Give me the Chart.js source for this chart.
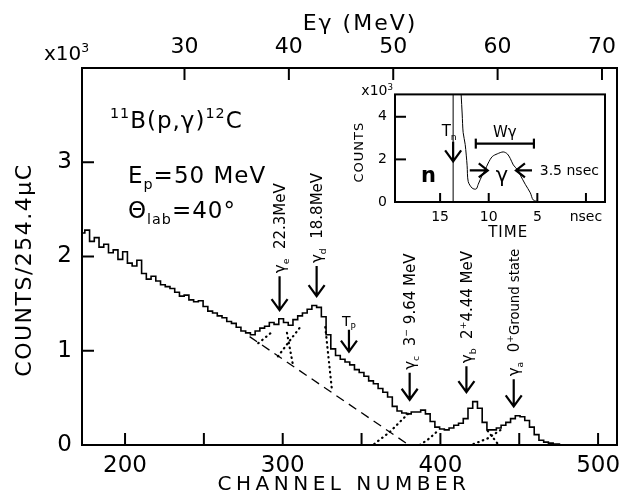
<!DOCTYPE html>
<html>
<head>
<meta charset="utf-8">
<script src="https://cdn.jsdelivr.net/npm/chart.js@4.4.1/dist/chart.umd.min.js"></script>
<style>
html, body { margin: 0; padding: 0; background: #fff; }
#wrap { position: relative; width: 629px; height: 504px; }
#main { position: absolute; left: 0; top: 0; }
#insetBox { position: absolute; left: 340px; top: 78px; width: 275px; height: 170px; }
</style>
</head>
<body>
<div id="wrap">
  <canvas id="main" width="629" height="504"></canvas>
  <div id="insetBox"><canvas id="inset" width="275" height="170"></canvas></div>
</div>
<script>
const FONT = "'DejaVu Sans', sans-serif";

// spectrum, counts in units of 10^3
const channels = [173,176,179,182,185,188,191,194,197,200,
  203,206,209,212,215,218,221,224,227,230,
  233,236,239,242,245,248,251,254,257,260,
  263,266,269,272,275,278,281,284,287,290,
  293,296,299,302,305,308,311,314,317,320,
  323,326,329,332,335,338,341,344,347,350,
  353,356,359,362,365,368,371,374,377,380,
  383,386,389,392,395,398,401,404,407,410,
  413,416,419,422,425,428,431,434,437,440,
  443,446,449,452,455,458,461,464,467,470,
  473,476];
const counts = [2.25,2.28,2.16,2.20,2.10,2.13,2.04,2.07,1.97,2.05,
  1.93,1.90,1.96,1.82,1.76,1.79,1.74,1.70,1.68,1.66,
  1.62,1.58,1.59,1.54,1.52,1.53,1.47,1.42,1.40,1.37,
  1.35,1.31,1.29,1.25,1.21,1.19,1.17,1.21,1.24,1.26,
  1.30,1.28,1.34,1.30,1.27,1.33,1.37,1.40,1.44,1.48,
  1.46,1.36,1.17,1.02,0.95,0.91,0.88,0.85,0.80,0.77,
  0.73,0.68,0.65,0.60,0.56,0.51,0.41,0.36,0.34,0.33,
  0.35,0.35,0.37,0.33,0.25,0.19,0.17,0.16,0.18,0.21,
  0.23,0.28,0.39,0.46,0.39,0.24,0.16,0.16,0.18,0.21,
  0.24,0.28,0.31,0.30,0.26,0.19,0.11,0.05,0.03,0.02,
  0.01,0.01];

// dashed background
const bgChannels = [279, 380];
const bgCounts = [1.15, 0];

// dotted peak shapes (null = break)
const dotChannels = [284.5,294,null, 302.7,306.7,null, 297,304.6,312,null, 327,331.3,null,
  358,368,380,null, 387,393,399,null, 430,436,null, 421,430,440];
const dotCounts = [1.08,1.21,null, 1.19,0.83,null, 0.94,1.11,1.27,null, 1.25,0.57,null,
  0.01,0.14,0.34,null, 0.0,0.07,0.16,null, 0.15,0.02,null, 0.01,0.07,0.18];

const channelTicks = [200, 300, 400, 500];
const channelMinor = [250, 350, 450];
const countTicks = [0, 1, 2, 3];
const energyTicks = [30, 40, 50, 60, 70];

// inset: time spectrum
const insetTime = [12.95,12.73,12.63,12.42,12.22,12.11,11.70,11.29,11.08,10.67,10.36,10.05,
  9.64,9.12,8.51,8.09,7.78,7.47,7.06,6.75,6.24,5.72,5.41,4.70];
const insetCounts = [6.0,4.13,3.26,2.70,1.70,0.96,0.65,0.61,0.83,1.26,1.52,1.83,
  2.13,2.26,2.35,2.26,2.04,1.74,1.52,1.26,0.83,0.43,0.09,0.0];
const tnTime = 13.66;
const timeTicks = [15, 10, 5, 0];
const insetCountTicks = [0, 2, 4];

function pts(xs, ys) {
  return xs.map((x, i) => (x === null ? { x: NaN, y: null } : { x: x, y: ys[i] }));
}

function drawParts(ctx, parts, x, y, size, align) {
  const spec = parts.map(([t, k]) => {
    let s = size, dy = 0, w = '';
    if (k === 'b') { s = size * 0.62; dy = size * 0.28; }
    if (k === 'p') { s = size * 0.62; dy = -size * 0.42; }
    if (k === 's') { s = size * 0.88; }
    if (k === 'B') { w = 'bold '; }
    return { t, font: w + s.toFixed(1) + 'px ' + FONT, dy };
  });
  let total = 0;
  spec.forEach(p => { ctx.font = p.font; p.w = ctx.measureText(p.t).width; total += p.w; });
  let cx = align === 'center' ? x - total / 2 : (align === 'right' ? x - total : x);
  ctx.textAlign = 'left';
  ctx.textBaseline = 'alphabetic';
  spec.forEach(p => { ctx.font = p.font; ctx.fillText(p.t, cx, y + p.dy); cx += p.w; });
}

function drawRotated(ctx, parts, x, y, size, align) {
  ctx.save();
  ctx.translate(x, y);
  ctx.rotate(-Math.PI / 2);
  drawParts(ctx, parts, 0, size * 0.36, size, align);
  ctx.restore();
}

function line(ctx, x1, y1, x2, y2) {
  ctx.beginPath(); ctx.moveTo(x1, y1); ctx.lineTo(x2, y2); ctx.stroke();
}

function arrowDown(ctx, x, yTop, yTip) {
  ctx.beginPath();
  ctx.moveTo(x, yTop); ctx.lineTo(x, yTip);
  ctx.moveTo(x - 8, yTip - 11); ctx.lineTo(x, yTip); ctx.lineTo(x + 8, yTip - 11);
  ctx.stroke();
}

function arrowSide(ctx, xFrom, xTip, y) {
  const d = xTip > xFrom ? -1 : 1;
  ctx.beginPath();
  ctx.moveTo(xFrom, y); ctx.lineTo(xTip, y);
  ctx.moveTo(xTip + d * 9, y - 7); ctx.lineTo(xTip, y); ctx.lineTo(xTip + d * 9, y + 7);
  ctx.stroke();
}

// arrows with labels on the main spectrum
const markers = [
  { ch: 298, tip: 1.43, len: 34, parts: [['γ', ''], ['e', 'b'], ['  22.3MeV', '']] },
  { ch: 321.5, tip: 1.58, len: 30, parts: [['γ', ''], ['d', 'b'], ['  18.8MeV', '']] },
  { ch: 380.5, tip: 0.48, len: 27, parts: [['γ', ''], ['c', 'b'], ['  3', ''], ['−', 'p'], [' 9.64 MeV', '']] },
  { ch: 416.5, tip: 0.56, len: 26, parts: [['γ', ''], ['b', 'b'], ['  2', ''], ['+', 'p'], ['4.44 MeV', '']] },
  { ch: 446.5, tip: 0.41, len: 27, parts: [['γ', ''], ['a', 'b'], ['  0', ''], ['+', 'p'], ['Ground state', 's']] }
];

const mainDecor = {
  id: 'mainDecor',
  afterDraw(chart) {
    const { ctx, chartArea: a, scales } = chart;
    const sx = scales.x, sy = scales.y, se = scales.e;
    ctx.save();
    ctx.strokeStyle = '#000';
    ctx.fillStyle = '#000';
    ctx.lineWidth = 2;
    ctx.strokeRect(a.left, a.top, a.right - a.left, a.bottom - a.top);

    channelTicks.concat(channelMinor).forEach(v => {
      const px = sx.getPixelForValue(v);
      line(ctx, px, a.bottom, px, a.bottom - 12);
    });
    countTicks.filter(v => v > 0).forEach(v => {
      const py = sy.getPixelForValue(v);
      line(ctx, a.left, py, a.left + 12, py);
    });
    energyTicks.forEach(v => {
      const px = se.getPixelForValue(v);
      line(ctx, px, a.top, px, a.top + 12);
    });

    // titles
    drawParts(ctx, [['x10', ''], ['3', 'p']], 44, 60, 20, 'left');
    ctx.letterSpacing = '2px';
    drawParts(ctx, [['Eγ (MeV)', '']], 360, 30, 22, 'center');
    ctx.letterSpacing = '4.5px';
    drawParts(ctx, [['CHANNEL NUMBER', '']], 344, 490, 20, 'center');
    ctx.letterSpacing = '1.5px';
    drawRotated(ctx, [['COUNTS/254.4μC', '']], 23, 270, 22, 'center');
    ctx.letterSpacing = '1px';
    drawParts(ctx, [['11', 'p'], ['B(p,γ)', ''], ['12', 'p'], ['C', '']], 110, 128, 23, 'left');
    drawParts(ctx, [['E', ''], ['p', 'b'], ['=50 MeV', '']], 128, 183, 23, 'left');
    drawParts(ctx, [['Θ', ''], ['lab', 'b'], ['=40°', '']], 128, 218, 23, 'left');
    ctx.letterSpacing = '0px';

    // peak markers
    ctx.lineWidth = 2.2;
    markers.forEach(m => {
      const px = sx.getPixelForValue(m.ch);
      const tip = sy.getPixelForValue(m.tip);
      arrowDown(ctx, px, tip - m.len, tip);
      drawRotated(ctx, m.parts, px, tip - m.len - 3, 15, 'left');
    });
    // Tp marker
    const tpx = sx.getPixelForValue(342);
    const tpTip = sy.getPixelForValue(0.99);
    arrowDown(ctx, tpx, tpTip - 22, tpTip);
    drawParts(ctx, [['T', ''], ['P', 'b']], tpx, tpTip - 26, 14, 'center');
    ctx.restore();
  }
};

const mainChart = new Chart(document.getElementById('main'), {
  type: 'line',
  data: {
    datasets: [
      { data: pts(channels, counts), borderColor: '#000', borderWidth: 1.6, pointRadius: 0, stepped: 'middle' },
      { data: pts(bgChannels, bgCounts), borderColor: '#000', borderWidth: 1.3, pointRadius: 0, borderDash: [9, 6] },
      { data: pts(dotChannels, dotCounts), borderColor: '#000', borderWidth: 2.2, pointRadius: 0,
        borderDash: [0.5, 4.5], borderCapStyle: 'round', spanGaps: false }
    ]
  },
  options: {
    responsive: false,
    animation: false,
    devicePixelRatio: 1,
    layout: { padding: { left: 0, right: 12, top: 0, bottom: 0 } },
    plugins: { legend: { display: false }, tooltip: { enabled: false } },
    scales: {
      x: {
        type: 'linear', position: 'bottom', min: 172.7, max: 512,
        afterBuildTicks: s => { s.ticks = channelTicks.map(v => ({ value: v })); },
        afterFit: s => { s.height = 59; },
        grid: { display: false, drawTicks: false }, border: { display: false },
        ticks: { color: '#000', font: { family: FONT, size: 23 }, padding: 7, maxRotation: 0, autoSkip: false }
      },
      e: {
        type: 'linear', position: 'top', min: 20.18, max: 71.44,
        afterBuildTicks: s => { s.ticks = energyTicks.map(v => ({ value: v })); },
        afterFit: s => { s.height = 68; },
        grid: { display: false, drawTicks: false }, border: { display: false },
        ticks: { color: '#000', font: { family: FONT, size: 22 }, padding: 8, maxRotation: 0, autoSkip: false }
      },
      y: {
        type: 'linear', position: 'left', min: 0, max: 4,
        afterBuildTicks: s => { s.ticks = countTicks.map(v => ({ value: v })); },
        afterFit: s => { s.width = 82; },
        grid: { display: false, drawTicks: false }, border: { display: false },
        ticks: { color: '#000', font: { family: FONT, size: 23 }, padding: 10 }
      }
    }
  },
  plugins: [mainDecor]
});

const insetDecor = {
  id: 'insetDecor',
  beforeDatasetsDraw(chart) {
    const { ctx, chartArea: a } = chart;
    ctx.save();
    ctx.fillStyle = '#fff';
    ctx.fillRect(a.left, a.top, a.right - a.left, a.bottom - a.top);
    ctx.restore();
  },
  afterDraw(chart) {
    const { ctx, chartArea: a, scales } = chart;
    const sx = scales.x, sy = scales.y;
    ctx.save();
    ctx.strokeStyle = '#000';
    ctx.fillStyle = '#000';
    ctx.lineWidth = 2;
    ctx.strokeRect(a.left, a.top, a.right - a.left, a.bottom - a.top);
    timeTicks.forEach(v => {
      const px = sx.getPixelForValue(v);
      line(ctx, px, a.bottom, px, a.bottom - 9);
    });
    insetCountTicks.filter(v => v > 0).forEach(v => {
      const py = sy.getPixelForValue(v);
      line(ctx, a.left, py, a.left + 11, py);
    });

    drawParts(ctx, [['x10', ''], ['3', 'p']], a.left - 2, a.top + 1, 14, 'right');
    ctx.letterSpacing = '1px';
    drawRotated(ctx, [['COUNTS', '']], a.left - 37, (a.top + a.bottom) / 2 + 4, 13, 'center');
    drawParts(ctx, [['TIME', '']], sx.getPixelForValue(8.0), a.bottom + 35, 15, 'center');
    ctx.letterSpacing = '0px';

    drawParts(ctx, [['T', ''], ['n', 'b']], sx.getPixelForValue(14.07), sy.getPixelForValue(3.09), 15, 'center');
    ctx.lineWidth = 2.2;
    const tnx = sx.getPixelForValue(tnTime);
    arrowDown(ctx, tnx, sy.getPixelForValue(2.83), sy.getPixelForValue(1.91));
    drawParts(ctx, [['n', 'B']], sx.getPixelForValue(16.2), sy.getPixelForValue(1.26) + 7, 21, 'center');

    drawParts(ctx, [['W', ''], ['γ', '']], sx.getPixelForValue(8.35), sy.getPixelForValue(3.35) + 6, 15, 'center');
    const by = sy.getPixelForValue(2.74);
    const b1 = sx.getPixelForValue(11.33), b2 = sx.getPixelForValue(5.35);
    line(ctx, b1, by, b2, by);
    line(ctx, b1, by - 5, b1, by + 5);
    line(ctx, b2, by - 5, b2, by + 5);

    const ay = sy.getPixelForValue(1.48);
    arrowSide(ctx, sx.getPixelForValue(11.95), sx.getPixelForValue(10.1), ay);
    arrowSide(ctx, sx.getPixelForValue(5.55), sx.getPixelForValue(7.2), ay);
    drawParts(ctx, [['γ', '']], sx.getPixelForValue(8.65), sy.getPixelForValue(1.26) + 7, 21, 'center');
    drawParts(ctx, [['3.5 nsec', '']], sx.getPixelForValue(4.75), ay + 5, 14, 'left');
    ctx.restore();
  }
};

const insetChart = new Chart(document.getElementById('inset'), {
  type: 'line',
  data: {
    datasets: [
      { data: pts(insetTime, insetCounts), borderColor: '#000', borderWidth: 1, pointRadius: 0, tension: 0.3 },
      { data: [{ x: tnTime, y: 0 }, { x: tnTime, y: 5.05 }], borderColor: '#000', borderWidth: 1, pointRadius: 0 }
    ]
  },
  options: {
    responsive: false,
    animation: false,
    devicePixelRatio: 1,
    layout: { padding: { left: 0, right: 10, top: 9, bottom: 0 } },
    plugins: { legend: { display: false }, tooltip: { enabled: false } },
    scales: {
      x: {
        type: 'linear', reverse: true, min: -1.96, max: 19.64,
        afterBuildTicks: s => { s.ticks = timeTicks.map(v => ({ value: v })); },
        afterFit: s => { s.height = 46; },
        grid: { display: false, drawTicks: false }, border: { display: false },
        ticks: { color: '#000', font: { family: FONT, size: 14 }, padding: 7, maxRotation: 0, autoSkip: false,
          callback: v => (v === 0 ? 'nsec' : v) }
      },
      y: {
        type: 'linear', min: 0, max: 5.05,
        afterBuildTicks: s => { s.ticks = insetCountTicks.map(v => ({ value: v })); },
        afterFit: s => { s.width = 55; },
        grid: { display: false, drawTicks: false }, border: { display: false },
        ticks: { color: '#000', font: { family: FONT, size: 14 }, padding: 8 }
      }
    }
  },
  plugins: [insetDecor]
});
</script>
</body>
</html>
